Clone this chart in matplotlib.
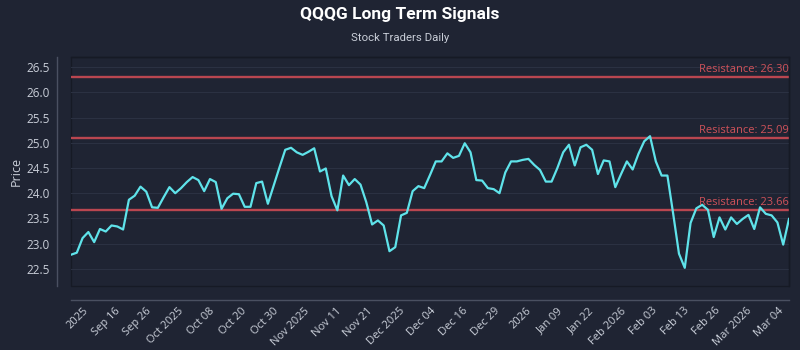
import matplotlib
matplotlib.use("Agg")
import matplotlib.pyplot as plt
import numpy as np

# ---- data ----
prices = [
    22.78, 22.82, 23.11, 23.23, 23.03, 23.29, 23.24, 23.36, 23.34, 23.28,
    23.87, 23.95, 24.13, 24.03, 23.72, 23.71, 23.92, 24.12, 24.00, 24.10,
    24.22, 24.32, 24.26, 24.04, 24.28, 24.22, 23.69, 23.90, 23.99, 23.98,
    23.73, 23.73, 24.20, 24.23, 23.79, 24.15, 24.51, 24.86, 24.90, 24.81,
    24.76, 24.82, 24.89, 24.43, 24.49, 23.94, 23.66, 24.35, 24.16, 24.28,
    24.17, 23.82, 23.38, 23.46, 23.36, 22.85, 22.93, 23.56, 23.61, 24.04,
    24.14, 24.10, 24.36, 24.63, 24.63, 24.79, 24.70, 24.74, 24.99, 24.81,
    24.26, 24.25, 24.10, 24.08, 24.00, 24.41, 24.63, 24.63, 24.66, 24.68,
    24.56, 24.46, 24.23, 24.23, 24.50, 24.81, 24.96, 24.55, 24.91, 24.96,
    24.86, 24.38, 24.65, 24.63, 24.12, 24.38, 24.63, 24.47, 24.78, 25.03,
    25.13, 24.63, 24.35, 24.35, 23.59, 22.80, 22.52, 23.41, 23.70, 23.77,
    23.67, 23.13, 23.52, 23.28, 23.52, 23.39, 23.49, 23.57, 23.29, 23.72,
    23.59, 23.56, 23.42, 22.98, 23.49,
]
resistance_levels = [26.30, 25.09, 23.66]
tick_labels = [
    "2025", "Sep 16", "Sep 26", "Oct 2025", "Oct 08", "Oct 20", "Oct 30",
    "Nov 2025", "Nov 11", "Nov 21", "Dec 2025", "Dec 04", "Dec 16", "Dec 29",
    "2026", "Jan 09", "Jan 22", "Feb 2026", "Feb 03", "Feb 13", "Feb 26",
    "Mar 2026", "Mar 04",
]
y_ticks = [22.5, 23.0, 23.5, 24.0, 24.5, 25.0, 25.5, 26.0, 26.5]

title = "QQQG Long Term Signals"
subtitle = "Stock Traders Daily"

# ---- style ----
BG = "#1f2433"
LINE = "#5fe3ea"
RES = "#b94650"
RES_TXT = "#d0525a"
TXT = "#c9ced8"
GRID = "#2b3142"
SPINE = "#4a5061"

plt.rcParams["font.family"] = ["Open Sans", "DejaVu Sans"]

fig = plt.figure(figsize=(8, 3.5), dpi=100, facecolor=BG)
ax = fig.add_axes([71 / 800, 1 - 286 / 350, (789 - 71) / 800, (286 - 57) / 350])
ax.set_facecolor(BG)

# spines first (set_position resets ticks)
for s in ["top", "right"]:
    ax.spines[s].set_color("#161a25")
    ax.spines[s].set_linewidth(1.0)
for s in ["left", "bottom"]:
    ax.spines[s].set_position(("outward", 10))
    ax.spines[s].set_color(SPINE)
    ax.spines[s].set_linewidth(1.0)
ax.patch.set_edgecolor("#161a25")
ax.patch.set_linewidth(1.0)

x = np.arange(len(prices))
ax.plot(x, prices, color=LINE, lw=1.6, zorder=3)

for lvl in resistance_levels:
    ax.axhline(lvl, color=RES, lw=1.7, zorder=2)
    ax.text(len(prices) - 1, lvl + 0.05, f"Resistance: {lvl:.2f}",
            color=RES_TXT, fontsize=8, ha="right", va="bottom", zorder=4)

ax.set_xlim(0, len(prices) - 1)
ax.set_ylim(22.16, 26.7)
ax.set_yticks(y_ticks)
ax.set_yticklabels([f"{v:.1f}" for v in y_ticks])
ax.yaxis.grid(True, color=GRID, lw=0.8, zorder=0)
ax.xaxis.grid(False)

tick_pos = np.linspace(3.4, 123.5, len(tick_labels))
ax.set_xticks(tick_pos)
ax.set_xticklabels(tick_labels, rotation=45, ha="right")

ax.tick_params(axis="both", colors=TXT, length=0)
ax.tick_params(axis="x", pad=4, labelsize=8)
ax.tick_params(axis="y", pad=5, labelsize=8.5)

ax.set_ylabel("Price", color=TXT, fontsize=9, labelpad=3)

fig.text(0.5, 1 - 15 / 350, title, color="white", fontsize=12.5, fontweight="bold",
         ha="center", va="center", family=["Roboto", "DejaVu Sans"])
fig.text(0.5, 1 - 38 / 350, subtitle, color=TXT, fontsize=8.2,
         ha="center", va="center", family=["Roboto", "DejaVu Sans"])

fig.savefig("out.png", dpi=100, facecolor=BG)
